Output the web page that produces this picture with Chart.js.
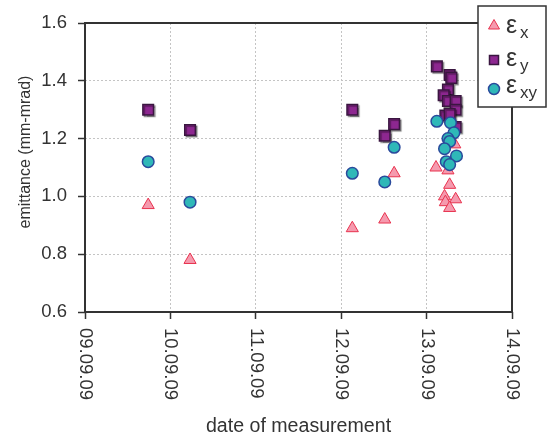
<!DOCTYPE html>
<html>
<head>
<meta charset="utf-8">
<script src="https://cdn.jsdelivr.net/npm/chart.js@4/dist/chart.umd.min.js"></script>
<style>
  html, body { margin: 0; padding: 0; background: #fff; }
  #wrap { width: 551px; height: 437px; }
</style>
</head>
<body>
<div id="wrap"><canvas id="ch" width="551" height="437"></canvas></div>
<script>
// ── data (x = day of September 2009, y = emittance in mm-mrad) ──
const xTickValues = [9, 10, 11, 12, 13, 14];
const xTickLabels = ['09.09.09', '10.09.09', '11.09.09', '12.09.09', '13.09.09', '14.09.09'];
const yTickValues = [0.6, 0.8, 1.0, 1.2, 1.4, 1.6];

const epsXDay = [9.74, 10.23, 12.13, 12.51, 12.62, 13.11, 13.25, 13.33, 13.27, 13.21, 13.34, 13.22, 13.27];
const epsXVal = [0.97, 0.78, 0.89, 0.92, 1.08, 1.10, 1.09, 1.18, 1.04, 1.00, 0.99, 0.98, 0.96];

const epsYDay = [9.74, 10.23, 12.13, 12.51, 12.62, 13.12, 13.27, 13.29, 13.25, 13.20, 13.25, 13.34, 13.34, 13.22, 13.27, 13.34];
const epsYVal = [1.30, 1.23, 1.30, 1.21, 1.25, 1.45, 1.42, 1.41, 1.37, 1.35, 1.33, 1.33, 1.30, 1.28, 1.285, 1.24];

const epsXYDay = [9.74, 10.23, 12.13, 12.51, 12.62, 13.12, 13.28, 13.32, 13.25, 13.27, 13.21, 13.35, 13.23, 13.27];
const epsXYVal = [1.12, 0.98, 1.08, 1.05, 1.17, 1.26, 1.255, 1.22, 1.20, 1.19, 1.165, 1.14, 1.12, 1.11];

const FONT = '"Liberation Sans", Arial, sans-serif';
const INK = '#333';

const zip = (xs, ys) => xs.map((x, i) => ({ x, y: ys[i] }));

const STY = {
  x:  { fill: '#f59aae', line: '#e8334f', width: 1 },
  y:  { fill: '#8d2790', line: '#3a1640', width: 1.5 },
  xy: { fill: '#2fb8b8', line: '#2a4a9c', width: 1.5 },
};

// ── frame, rotated tick labels, axis titles, legend ──
const decorPlugin = {
  id: 'decor',
  beforeDatasetsDraw(chart) {
    const { ctx, chartArea: a } = chart;
    ctx.save();
    ctx.strokeStyle = INK;
    ctx.lineWidth = 2;
    ctx.strokeRect(a.left, a.top, a.right - a.left, a.bottom - a.top);
    ctx.restore();
  },
  beforeDatasetDraw(chart, args) {
    if (args.index !== 1) return;
    const ctx = chart.ctx;
    ctx.save();
    ctx.shadowColor = 'rgba(0,0,0,0.35)';
    ctx.shadowOffsetX = 1.5;
    ctx.shadowOffsetY = 1.5;
    ctx.shadowBlur = 1;
  },
  afterDatasetDraw(chart, args) {
    if (args.index === 1) chart.ctx.restore();
  },
  afterDraw(chart) {
    const { ctx, chartArea: a } = chart;
    const xs = chart.scales.x;
    ctx.save();
    ctx.fillStyle = INK;

    // x tick labels, reading top to bottom
    ctx.font = '18.5px ' + FONT;
    ctx.textAlign = 'left';
    ctx.textBaseline = 'middle';
    xs.ticks.forEach(t => {
      const px = xs.getPixelForValue(t.value);
      ctx.save();
      ctx.translate(px, a.bottom + 16);
      ctx.rotate(Math.PI / 2);
      ctx.fillText(t.label, 0, 0);
      ctx.restore();
    });

    // axis titles
    ctx.textAlign = 'center';
    ctx.textBaseline = 'alphabetic';
    ctx.font = '19.6px ' + FONT;
    ctx.fillText('date of measurement', (a.left + a.right) / 2, 432);
    ctx.save();
    ctx.translate(30, 152);
    ctx.rotate(-Math.PI / 2);
    ctx.font = '16px ' + FONT;
    ctx.fillText('emittance (mm-mrad)', 0, 0);
    ctx.restore();

    // legend
    const bx = 478, by = 6, bw = 68, bh = 101;
    ctx.fillStyle = '#fff';
    ctx.fillRect(bx, by, bw, bh);
    ctx.strokeStyle = INK;
    ctx.lineWidth = 1.5;
    ctx.strokeRect(bx, by, bw, bh);

    const rows = [
      { sty: STY.x,  sub: 'x',  cy: 25, base: 33, shape: 'tri' },
      { sty: STY.y,  sub: 'y',  cy: 60, base: 66, shape: 'rect' },
      { sty: STY.xy, sub: 'xy', cy: 89, base: 93, shape: 'circ' },
    ];
    rows.forEach(r => {
      const mx = 494;
      ctx.fillStyle = r.sty.fill;
      ctx.strokeStyle = r.sty.line;
      ctx.lineWidth = r.sty.width;
      ctx.beginPath();
      if (r.shape === 'tri') {
        ctx.moveTo(mx, r.cy - 5.5);
        ctx.lineTo(mx + 5.5, r.cy + 4);
        ctx.lineTo(mx - 5.5, r.cy + 4);
        ctx.closePath();
      } else if (r.shape === 'rect') {
        ctx.rect(mx - 4.5, r.cy - 4.5, 9, 9);
      } else {
        ctx.arc(mx, r.cy, 5.5, 0, Math.PI * 2);
      }
      ctx.fill();
      ctx.stroke();

      ctx.fillStyle = INK;
      ctx.textAlign = 'left';
      ctx.font = '25px ' + FONT;
      ctx.fillText('\u03b5', 506, r.base);
      ctx.font = '17px ' + FONT;
      ctx.fillText(r.sub, 520, r.base + 5);
    });
    ctx.restore();
  }
};

const gridOpts = {
  color: '#c4c4c4',
  lineWidth: 1,
  borderDash: [2, 2],
  drawTicks: true,
  tickLength: 7,
  tickColor: INK,
  tickWidth: 1.5,
  tickBorderDash: [],
};

new Chart(document.getElementById('ch'), {
  type: 'scatter',
  data: {
    datasets: [
      {
        label: 'εx', data: zip(epsXDay, epsXVal), order: 2,
        pointStyle: 'triangle', pointRadius: 7, pointHoverRadius: 7,
        backgroundColor: STY.x.fill, borderColor: STY.x.line, borderWidth: STY.x.width,
      },
      {
        label: 'εy', data: zip(epsYDay, epsYVal), order: 1,
        pointStyle: 'rect', pointRadius: 7.5, pointHoverRadius: 7.5,
        backgroundColor: STY.y.fill, borderColor: STY.y.line, borderWidth: STY.y.width,
      },
      {
        label: 'εxy', data: zip(epsXYDay, epsXYVal), order: 0,
        pointStyle: 'circle', pointRadius: 5.8, pointHoverRadius: 5.8,
        backgroundColor: STY.xy.fill, borderColor: STY.xy.line, borderWidth: STY.xy.width,
      },
    ]
  },
  options: {
    responsive: false,
    animation: false,
    events: [],
    layout: { padding: { top: 23, right: 39, left: 0, bottom: 0 } },
    plugins: { legend: { display: false }, tooltip: { enabled: false } },
    scales: {
      x: {
        type: 'linear', min: 9, max: 14,
        afterFit: s => { s.height = 125; },
        afterBuildTicks: s => { s.ticks = xTickValues.map(v => ({ value: v })); },
        grid: gridOpts,
        border: { display: false, dash: [2, 2] },
        ticks: {
          color: 'rgba(0,0,0,0)', minRotation: 90, maxRotation: 90,
          font: { family: FONT, size: 18 },
          callback: v => xTickLabels[xTickValues.indexOf(v)],
        },
      },
      y: {
        type: 'linear', min: 0.6, max: 1.6,
        afterFit: s => { s.width = 85; },
        afterBuildTicks: s => { s.ticks = yTickValues.map(v => ({ value: v })); },
        grid: gridOpts,
        border: { display: false, dash: [2, 2] },
        ticks: {
          color: INK, padding: 11,
          font: { family: FONT, size: 18.5 },
          callback: v => v.toFixed(1),
        },
      },
    },
  },
  plugins: [decorPlugin],
});
</script>
</body>
</html>
